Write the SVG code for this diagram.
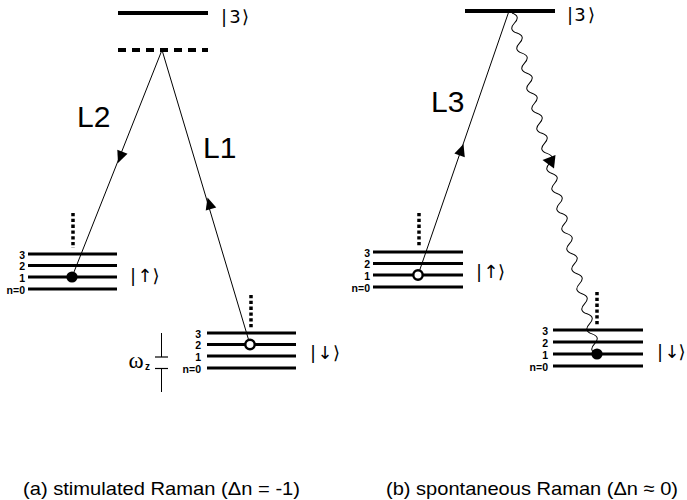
<svg xmlns="http://www.w3.org/2000/svg" xmlns:xlink="http://www.w3.org/1999/xlink" width="687" height="500" viewBox="0 0 687 500">
<style>
.lvl{stroke:#000;stroke-width:3;fill:none}
.top{stroke:#000;stroke-width:3.8;fill:none}
.dots{stroke:#000;stroke-width:3.5;stroke-dasharray:3.3 2.5;fill:none}
.beam{stroke:#000;stroke-width:1;fill:none}
.n{font-family:"Liberation Sans",Arial,sans-serif;font-weight:bold;font-size:10.5px;text-anchor:end}
.ket{font-family:"DejaVu Sans","Liberation Sans",sans-serif;font-size:18px;fill:#000}
.lab{font-family:"Liberation Sans",Arial,sans-serif;font-size:30px}
.cap{font-family:"Liberation Sans",Arial,sans-serif;font-size:19px}
.open{fill:#fff;stroke:#000;stroke-width:2.4}
</style>
<defs>
<path id="ah" d="M0,0 L-12,-5.5 L-12,5.5 Z" fill="#000"/>
</defs>
<rect width="687" height="500" fill="#fff"/>

<!-- panel (a) -->
<g id="a-level3">
<line class="top" x1="118" y1="13" x2="208" y2="13"/>
<text class="ket" x="221 229.3 241.9" y="22.7">|3⟩</text>
</g>
<g id="a-virtual">
<line x1="118" y1="50" x2="208" y2="50" stroke="#000" stroke-width="4" stroke-dasharray="8 6"/>
</g>
<g id="a-up">
<line class="dots" x1="73" y1="213" x2="73" y2="248"/>
<line class="lvl" x1="28" y1="254" x2="117" y2="254"/>
<line class="lvl" x1="28" y1="265.5" x2="117" y2="265.5"/>
<line class="lvl" x1="28" y1="277" x2="117" y2="277"/>
<line class="lvl" x1="28" y1="289" x2="117" y2="289"/>
<text class="n" x="25" y="258.5">3</text>
<text class="n" x="25" y="270">2</text>
<text class="n" x="25" y="281.5">1</text>
<text class="n" x="25" y="294">n=0</text>
<text class="ket" y="281.7"><tspan x="130">|</tspan><tspan x="137.5">↑&#xFE0E;</tspan><tspan x="152.4">⟩</tspan></text>
</g>
<g id="a-down">
<line class="dots" x1="251" y1="295" x2="251" y2="328"/>
<line class="lvl" x1="207" y1="333" x2="296" y2="333"/>
<line class="lvl" x1="207" y1="344.5" x2="296" y2="344.5"/>
<line class="lvl" x1="207" y1="356" x2="296" y2="356"/>
<line class="lvl" x1="207" y1="368" x2="296" y2="368"/>
<text class="n" x="201" y="337.5">3</text>
<text class="n" x="201" y="349">2</text>
<text class="n" x="201" y="360.5">1</text>
<text class="n" x="201" y="373">n=0</text>
<text class="ket" y="358.7"><tspan x="310">|</tspan><tspan x="317.5">↓&#xFE0E;</tspan><tspan x="332.9">⟩</tspan></text>
</g>
<g id="a-omega">
<line x1="161.5" y1="333" x2="161.5" y2="357" stroke="#000" stroke-width="1"/>
<line x1="155" y1="357" x2="168" y2="357" stroke="#000" stroke-width="1.2"/>
<line x1="155" y1="368.5" x2="168" y2="368.5" stroke="#000" stroke-width="1.2"/>
<line x1="161.5" y1="368.5" x2="161.5" y2="392" stroke="#000" stroke-width="1"/>
<text x="128.5" y="367.5" font-family="'Liberation Serif','DejaVu Serif',serif" font-size="23">ω</text>
<text x="145" y="370" font-family="'Liberation Sans',Arial,sans-serif" font-weight="bold" font-size="10">z</text>
</g>

<!-- panel (b) -->
<g id="b-level3">
<line class="top" x1="465" y1="11" x2="555" y2="11"/>
<text class="ket" x="567 574.3 587.9" y="20.7">|3⟩</text>
</g>
<g id="b-up">
<line class="dots" x1="419" y1="213" x2="419" y2="246"/>
<line class="lvl" x1="373" y1="252" x2="463" y2="252"/>
<line class="lvl" x1="373" y1="263.5" x2="463" y2="263.5"/>
<line class="lvl" x1="373" y1="275" x2="463" y2="275"/>
<line class="lvl" x1="373" y1="287" x2="463" y2="287"/>
<text class="n" x="370" y="256.5">3</text>
<text class="n" x="370" y="268">2</text>
<text class="n" x="370" y="279.5">1</text>
<text class="n" x="370" y="292">n=0</text>
<text class="ket" y="277.7"><tspan x="476">|</tspan><tspan x="483.5">↑&#xFE0E;</tspan><tspan x="497.9">⟩</tspan></text>
</g>
<g id="b-down">
<line class="dots" x1="597" y1="292" x2="597" y2="325"/>
<line class="lvl" x1="553" y1="330" x2="643" y2="330"/>
<line class="lvl" x1="553" y1="342" x2="643" y2="342"/>
<line class="lvl" x1="553" y1="354" x2="643" y2="354"/>
<line class="lvl" x1="553" y1="366" x2="643" y2="366"/>
<text class="n" x="548" y="334.5">3</text>
<text class="n" x="548" y="346.5">2</text>
<text class="n" x="548" y="358.5">1</text>
<text class="n" x="548" y="371">n=0</text>
<text class="ket" y="357.7"><tspan x="657">|</tspan><tspan x="664.5">↓&#xFE0E;</tspan><tspan x="678.4">⟩</tspan></text>
</g>

<!-- connectors -->
<g id="connectors">
<line class="beam" x1="162" y1="50" x2="72" y2="277"/>
<line class="beam" x1="250" y1="344.5" x2="162" y2="50"/>
<line class="beam" x1="418" y1="275" x2="509" y2="11"/>
<path class="beam" transform="translate(512,13) rotate(76)" d="M0,0 q5.17,-8 10.335,0 t10.335,0 t10.335,0 t10.335,0 t10.335,0 t10.335,0 t10.335,0 t10.335,0 t10.335,0 t10.335,0 t10.335,0 t10.335,0 t10.335,0 t10.335,0 t10.335,0 t10.335,0 t10.335,0 t10.335,0 t10.335,0 t10.335,0 t10.335,0 t10.335,0 t10.335,0 t10.335,0 t10.335,0 t10.335,0 t10.335,0 t10.335,0 t10.335,0 t10.335,0 t10.335,0 t10.335,0 t10.335,0 t10.335,0"/>
<use xlink:href="#ah" href="#ah" transform="translate(118,163) rotate(111.6)"/>
<use xlink:href="#ah" href="#ah" transform="translate(207.5,197.5) rotate(-106.9)"/>
<use xlink:href="#ah" href="#ah" transform="translate(463.5,144) rotate(-71)"/>
<polygon points="542.5,160 555.5,155 554,168.5" fill="#000"/>
<text class="lab" x="77" y="127">L2</text>
<text class="lab" x="203" y="158">L1</text>
<text class="lab" x="431" y="112">L3</text>
</g>

<!-- population markers -->
<g id="markers">
<circle cx="72" cy="277" r="5.6" fill="#000"/>
<circle class="open" cx="250" cy="344.5" r="4.7"/>
<circle class="open" cx="418" cy="275" r="4.7"/>
<circle cx="597" cy="354" r="5.6" fill="#000"/>
</g>

<g id="captions">
<text class="cap" x="23" y="495" textLength="277" lengthAdjust="spacingAndGlyphs">(a) stimulated Raman (Δn = -1)</text>
<text class="cap" x="386" y="495" textLength="292" lengthAdjust="spacingAndGlyphs">(b) spontaneous Raman (Δn ≈ 0)</text>
</g>
</svg>
